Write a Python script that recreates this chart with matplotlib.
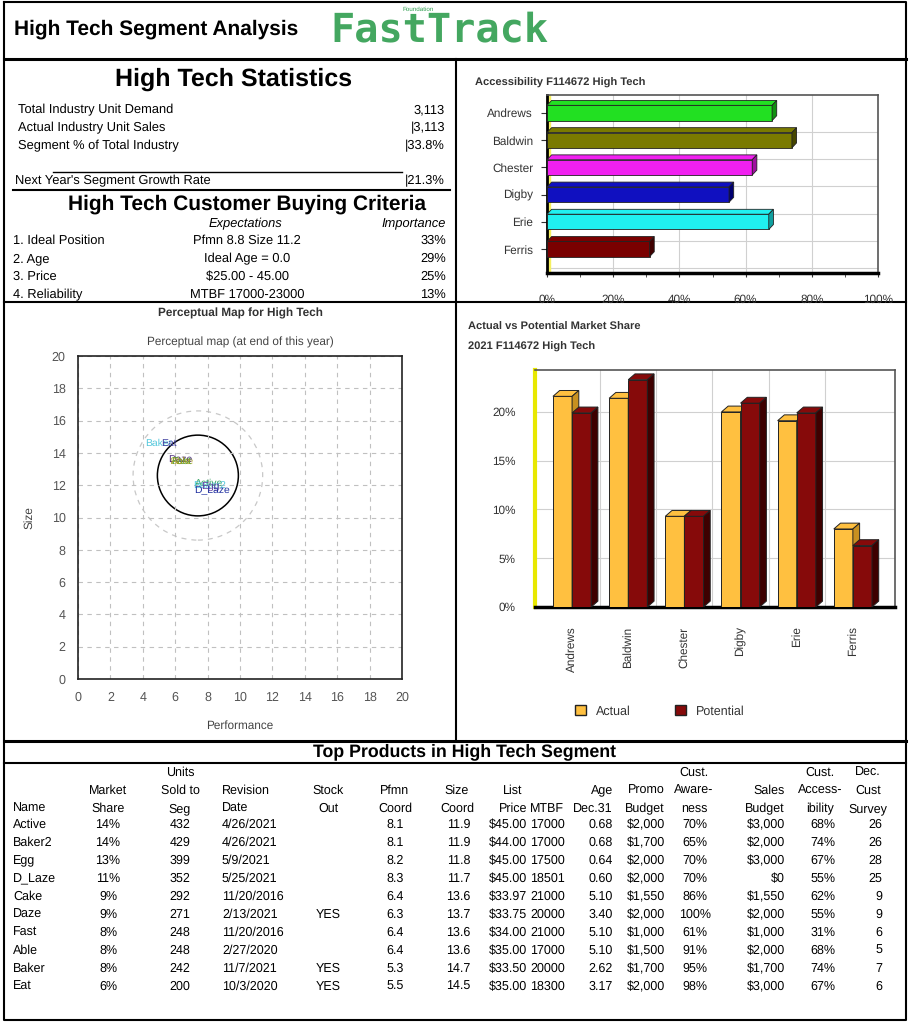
import matplotlib
matplotlib.use('Agg')
import matplotlib.pyplot as plt
from matplotlib.patches import Polygon, Circle, Patch

plt.rcParams['font.family'] = ['Liberation Sans', 'DejaVu Sans']
plt.rcParams['text.hinting'] = 'none'

# ---------------- data ----------------
companies = ['Andrews', 'Baldwin', 'Chester', 'Digby', 'Erie', 'Ferris']
accessibility = [68, 74, 62, 55, 67, 31]
acc_colors = ['#22e022', '#7a7a00', '#f020f0', '#1010c0', '#20f0f0', '#7a0000']
acc_sides = ['#119011', '#464600', '#a010a0', '#000070', '#10a0a0', '#400000']

share_actual = [21.6, 21.4, 9.3, 20.0, 19.1, 8.0]
share_potential = [19.9, 23.3, 9.3, 20.9, 19.9, 6.3]

stat_labels = ['Total Industry Unit Demand', 'Actual Industry Unit Sales', 'Segment % of Total Industry']
stat_values = ['3,113', '|3,113', '|33.8%']
growth_label = "Next Year's Segment Growth Rate"
growth_value = '|21.3%'

criteria = ['1. Ideal Position', '2. Age', '3. Price', '4. Reliability']
expectations = ['Pfmn 8.8 Size 11.2', 'Ideal Age = 0.0', '$25.00 - 45.00', 'MTBF 17000-23000']
importance = ['33%', '29%', '25%', '13%']

# perceptual map labels (positions)
pm_names = ['Baker', 'Eat', 'Cake', 'Daze', 'Fast', 'Able', 'Active', 'Baker2', 'Egg', 'D_Laze']
pm_x = [5.0, 5.6, 6.4, 6.3, 6.4, 6.4, 8.1, 8.1, 8.2, 8.3]
pm_y = [14.6, 14.6, 13.5, 13.6, 13.5, 13.5, 12.1, 12.0, 11.9, 11.7]
pm_colors = ['#55c8dc', '#4040a0', '#c0b040', '#503080', '#40a040', '#a0a020',
             '#30a060', '#55c8dc', '#6040a0', '#2030a0']
ideal_center = (7.4, 12.6)

# table
names = ['Active', 'Baker2', 'Egg', 'D_Laze', 'Cake', 'Daze', 'Fast', 'Able', 'Baker', 'Eat']
mkt_share = [14, 14, 13, 11, 9, 9, 8, 8, 8, 6]
units = [432, 429, 399, 352, 292, 271, 248, 248, 242, 200]
rev_date = ['4/26/2021', '4/26/2021', '5/9/2021', '5/25/2021', '11/20/2016',
            '2/13/2021', '11/20/2016', '2/27/2020', '11/7/2021', '10/3/2020']
stock_out = ['', '', '', '', '', 'YES', '', '', 'YES', 'YES']
pfmn = [8.1, 8.1, 8.2, 8.3, 6.4, 6.3, 6.4, 6.4, 5.3, 5.5]
size = [11.9, 11.9, 11.8, 11.7, 13.6, 13.7, 13.6, 13.6, 14.7, 14.5]
price = [45.00, 44.00, 45.00, 45.00, 33.97, 33.75, 34.00, 35.00, 33.50, 35.00]
mtbf = [17000, 17000, 17500, 18501, 21000, 20000, 21000, 17000, 20000, 18300]
age = [0.68, 0.68, 0.64, 0.60, 5.10, 3.40, 5.10, 5.10, 2.62, 3.17]
promo = [2000, 1700, 2000, 2000, 1550, 2000, 1000, 1500, 1700, 2000]
aware = [70, 65, 70, 70, 86, 100, 61, 91, 95, 98]
sales = [3000, 2000, 3000, 0, 1550, 2000, 1000, 2000, 1700, 3000]
access = [68, 74, 67, 55, 62, 55, 31, 68, 74, 67]
survey = [26, 26, 28, 25, 9, 9, 6, 5, 7, 6]

W, H = 913, 1024


def pos(l, t, r, b):
    return [l / W, 1 - b / H, (r - l) / W, (b - t) / H]


fig = plt.figure(figsize=(W / 100, H / 100), dpi=100)
bg = fig.add_axes([0, 0, 1, 1])
bg.set_xlim(0, W)
bg.set_ylim(H, 0)
bg.axis('off')

# frame lines
bg.plot([4, 906, 906, 4, 4], [2, 2, 1020, 1020, 2], color='black', lw=1.5)
bg.plot([4, 906], [59, 59], color='black', lw=2.2)
bg.plot([456, 456], [59, 741], color='black', lw=1.5)
bg.plot([4, 906], [302, 302], color='black', lw=1.5)
bg.plot([4, 906], [741, 741], color='black', lw=2.2)
bg.plot([4, 906], [763, 763], color='black', lw=1.5)

# header
bg.text(14, 29, 'High Tech Segment Analysis', fontsize=15, fontweight='bold', va='center')
bg.text(330, 30, 'FastTrack', family='DejaVu Sans Mono', fontweight='bold', fontsize=29,
        color='#2f9e4f', va='center', alpha=0.9)
bg.text(418, 9, 'Foundation', fontsize=4.5, color='#2f9e4f', ha='center', va='center')

# statistics panel
fs = 9.3
bg.text(234, 79, 'High Tech Statistics', fontsize=18, fontweight='bold', ha='center', va='center')
for i, (lab, val) in enumerate(zip(stat_labels, stat_values)):
    y = 113 + i * 18
    bg.text(18, y, lab, fontsize=fs, va='baseline')
    bg.text(445, y, val, fontsize=fs, va='baseline', ha='right')
bg.plot([53, 402], [172, 172], color='black', lw=1)
bg.text(15, 184, growth_label, fontsize=fs, va='baseline')
bg.text(445, 184, growth_value, fontsize=fs, va='baseline', ha='right')
bg.plot([13, 450], [190, 190], color='black', lw=1.5)
bg.text(247, 204, 'High Tech Customer Buying Criteria', fontsize=15, fontweight='bold',
        ha='center', va='center')
bg.text(245, 227, 'Expectations', fontsize=fs, style='italic', ha='center', va='baseline')
bg.text(446, 227, 'Importance', fontsize=fs, style='italic', ha='right', va='baseline')
for i in range(len(criteria)):
    y = 244 + i * 18
    bg.text(13, y, criteria[i], fontsize=fs, va='baseline')
    bg.text(247, y, expectations[i], fontsize=fs, va='baseline', ha='center')
    bg.text(446, y, importance[i], fontsize=fs, va='baseline', ha='right')

# ---------------- accessibility chart ----------------
bg.text(475, 83, 'Accessibility F114672 High Tech', fontsize=8, fontweight='bold',
        color='#333333', va='center')
ax3 = fig.add_axes(pos(547, 95, 878, 273))
ax3.set_xlim(0, 100)
ax3.set_ylim(5.88, -0.66)
for gx in [20, 40, 60, 80]:
    ax3.axvline(gx, color='#d0d0d0', lw=0.8, zorder=0)
for i in range(6):
    ax3.axhline(i + 0.7, color='#d0d0d0', lw=0.8, zorder=0)
hh, dx, dy = 0.28, 1.4, 0.18
for i, v in enumerate(accessibility):
    ax3.barh(i, v, height=2 * hh, color=acc_colors[i], edgecolor='#222222', lw=0.6, zorder=3)
    ax3.add_patch(Polygon([(0, i - hh), (dx, i - hh - dy), (v + dx, i - hh - dy), (v, i - hh)],
                          closed=True, fc=acc_colors[i], ec='#222222', lw=0.6, zorder=3))
    ax3.add_patch(Polygon([(v, i - hh), (v + dx, i - hh - dy), (v + dx, i + hh - dy), (v, i + hh)],
                          closed=True, fc=acc_sides[i], ec='#222222', lw=0.6, zorder=3))
ax3.axvspan(0, 0.9, color='#f5f060', zorder=2)
ax3.set_yticks(range(6))
ax3.set_yticklabels(companies)
ax3.set_xticks([0, 20, 40, 60, 80, 100])
ax3.set_xticklabels(['0%', '20%', '40%', '60%', '80%', '100%'])
ax3.set_xticks(range(0, 101, 10), minor=True)
ax3.tick_params(axis='y', length=4, labelsize=8.5, colors='#333333', pad=6)
ax3.tick_params(axis='x', which='both', length=3, labelsize=8.5, colors='#333333', pad=12)
for s in ['top', 'right']:
    ax3.spines[s].set_color('#555555')
    ax3.spines[s].set_linewidth(1.2)
ax3.spines['bottom'].set_linewidth(2.5)
ax3.spines['left'].set_linewidth(2)

# ---------------- perceptual map ----------------
bg.text(240, 313, 'Perceptual Map for High Tech', fontsize=8.5, fontweight='bold',
        color='#333333', ha='center', va='center')
bg.text(240, 342, 'Perceptual map (at end of this year)', fontsize=8.5, color='#444444',
        ha='center', va='center')
ax = fig.add_axes(pos(78, 356, 402, 679))
ax.set_xlim(0, 20)
ax.set_ylim(0, 20)
ax.set_xticks(range(0, 21, 2))
ax.set_yticks(range(0, 21, 2))
ax.grid(True, ls=(0, (4, 4)), color='#c0c0c0', lw=0.8)
ax.tick_params(length=0, labelsize=9, colors='#555555', pad=9)
for s in ax.spines.values():
    s.set_linewidth(1.2)
    s.set_color('#222222')
ax.add_patch(Circle(ideal_center, 4.0, fill=False, ls=(0, (4, 4)), ec='#c8c8c8', lw=0.9))
ax.add_patch(Circle(ideal_center, 2.5, fill=False, ec='black', lw=1.1))
for n, x, y, c in zip(pm_names, pm_x, pm_y, pm_colors):
    ax.text(x, y, n, color=c, fontsize=7.5, ha='center', va='center')
ax.set_xlabel('Performance', fontsize=8.5, color='#444444', labelpad=12)
ax.set_ylabel('Size', fontsize=8.5, color='#444444', labelpad=12)

# ---------------- market share ----------------
bg.text(468, 327, 'Actual vs Potential Market Share', fontsize=8, fontweight='bold',
        color='#333333', va='center')
bg.text(468, 347, '2021 F114672 High Tech', fontsize=8, fontweight='bold',
        color='#333333', va='center')
ax2 = fig.add_axes(pos(535, 370, 895, 607))
ax2.set_xlim(-0.66, 5.75)
ax2.set_ylim(0, 24.3)
for gy in [5, 10, 15, 20]:
    ax2.axhline(gy, color='#d0d0d0', lw=0.8, zorder=0)
for i in range(5):
    ax2.axvline(i + 0.5, color='#d0d0d0', lw=0.8, zorder=0)


def bar3d(axis, x, h, w, face, side, ddx, ddy):
    axis.bar(x, h, w, color=face, edgecolor='#222222', lw=0.7, zorder=3)
    axis.add_patch(Polygon([(x - w / 2, h), (x - w / 2 + ddx, h + ddy), (x + w / 2 + ddx, h + ddy), (x + w / 2, h)],
                           closed=True, fc=face, ec='#222222', lw=0.7, zorder=3))
    axis.add_patch(Polygon([(x + w / 2, 0), (x + w / 2 + ddx, ddy), (x + w / 2 + ddx, h + ddy), (x + w / 2, h)],
                           closed=True, fc=side, ec='#222222', lw=0.7, zorder=3))


for i in range(len(companies)):
    bar3d(ax2, i - 0.17, share_actual[i], 0.34, '#ffc040', '#c89020', 0.12, 0.6)
    bar3d(ax2, i + 0.17, share_potential[i], 0.34, '#860a0a', '#3e0000', 0.12, 0.6)
ax2.set_yticks([0, 5, 10, 15, 20])
ax2.set_yticklabels(['0%', '5%', '10%', '15%', '20%'])
ax2.set_xticks(range(6))
ax2.set_xticklabels(companies, rotation=90, va='top')
ax2.tick_params(axis='y', length=0, labelsize=8.5, colors='#333333', pad=14)
ax2.tick_params(axis='x', length=0, labelsize=8.5, colors='#333333', pad=14)
ax2.spines['left'].set_color('#e8e800')
ax2.spines['left'].set_linewidth(3)
for s in ['top', 'right']:
    ax2.spines[s].set_color('#555555')
    ax2.spines[s].set_linewidth(1.2)
ax2.spines['bottom'].set_linewidth(2.5)

fig.legend(handles=[Patch(fc='#ffc040', ec='#222222', label='Actual'),
                    Patch(fc='#860a0a', ec='#222222', label='Potential')],
           loc='center', bbox_to_anchor=((660) / W, 1 - 711 / H), ncol=2, frameon=False,
           fontsize=9, handlelength=0.9, handleheight=0.9, columnspacing=3.5,
           labelcolor='#333333')

# ---------------- table ----------------
bg.text(465, 752, 'Top Products in High Tech Segment', fontsize=12.8, fontweight='bold',
        ha='center', va='center')

tfs = 9
headers = [
    (13, 'left', ['', '', 'Name']),
    (108, 'center', ['', 'Market', 'Share']),
    (180, 'center', ['Units', 'Sold to', 'Seg']),
    (222, 'left', ['', 'Revision', 'Date']),
    (328, 'center', ['', 'Stock', 'Out']),
    (395, 'center', ['', 'Pfmn', 'Coord']),
    (457, 'center', ['', 'Size', 'Coord']),
    (527, 'right', ['', '', 'Price']),
    (530, 'left', ['', '', 'MTBF']),
    (613, 'right', ['', 'Age', 'Dec.31']),
    (665, 'right', ['', 'Promo', 'Budget']),
    (694, 'center', ['Cust.', 'Aware-', 'ness']),
    (785, 'right', ['', 'Sales', 'Budget']),
    (820, 'center', ['Cust.', 'Access-', 'ibility']),
    (868, 'center', ['Dec.', 'Cust', 'Survey']),
]
for x, ha, lines in headers:
    for j, t in enumerate(lines):
        if t:
            bg.text(x, 776 + j * 18, t, fontsize=tfs, ha=ha, va='baseline')
bg.text(513, 794, 'List', fontsize=tfs, ha='center', va='baseline')

cols = [
    (13, 'left', names),
    (108, 'center', [f'{v}%' for v in mkt_share]),
    (180, 'center', [str(v) for v in units]),
    (222, 'left', rev_date),
    (328, 'center', stock_out),
    (395, 'center', [f'{v:.1f}' for v in pfmn]),
    (470, 'right', [f'{v:.1f}' for v in size]),
    (527, 'right', [f'${v:.2f}' for v in price]),
    (530, 'left', [str(v) for v in mtbf]),
    (613, 'right', [f'{v:.2f}' for v in age]),
    (665, 'right', [f'${v:,}' for v in promo]),
    (695, 'center', [f'{v}%' for v in aware]),
    (785, 'right', [f'${v:,}' for v in sales]),
    (823, 'center', [f'{v}%' for v in access]),
    (882, 'right', [str(v) for v in survey]),
]
for x, ha, vals in cols:
    for i, t in enumerate(vals):
        bg.text(x, 828 + i * 18, t, fontsize=tfs, ha=ha, va='baseline')

fig.savefig('out.png', dpi=100)
